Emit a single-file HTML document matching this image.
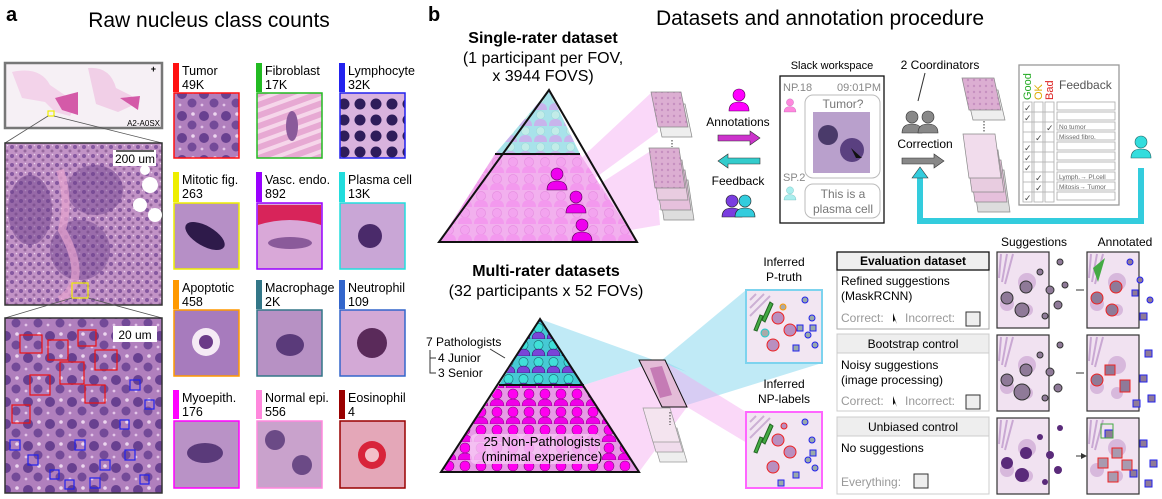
<!DOCTYPE html>
<html><head><meta charset="utf-8"><style>
html,body{margin:0;padding:0;background:#fff}
svg{display:block;font-family:"Liberation Sans","DejaVu Sans",sans-serif}
</style></head><body>
<svg width="1162" height="499" viewBox="0 0 1162 499" xmlns="http://www.w3.org/2000/svg">
<defs>
<pattern id="tis" width="9" height="9" patternUnits="userSpaceOnUse">
<rect width="9" height="9" fill="#c293c6"/><circle cx="3" cy="3" r="2" fill="#8558a0"/><circle cx="7" cy="7" r="1.5" fill="#96689f"/><circle cx="7.5" cy="1.5" r=".8" fill="#ecd3ee"/></pattern>
<pattern id="tis2" width="22" height="22" patternUnits="userSpaceOnUse">
<rect width="22" height="22" fill="#b07fbd"/><circle cx="6" cy="6" r="5" fill="#684090"/><circle cx="16" cy="15" r="4.5" fill="#734a98"/><circle cx="17" cy="4" r="1.8" fill="#ecd6ef"/><circle cx="4" cy="17" r="1.4" fill="#e3c4e8"/></pattern>
<pattern id="lym" width="16" height="16" patternUnits="userSpaceOnUse">
<rect width="16" height="16" fill="#d9b3de"/><circle cx="8" cy="8" r="5.5" fill="#2e1d5a"/></pattern>
<pattern id="fib" width="10" height="10" patternUnits="userSpaceOnUse" patternTransform="rotate(70)">
<rect width="10" height="10" fill="#e7a9d3"/><rect width="4" height="10" fill="#f6d6ea"/></pattern>
<pattern id="slide" width="6" height="6" patternUnits="userSpaceOnUse">
<rect width="6" height="6" fill="#dcaed2"/><circle cx="2" cy="2" r="1.2" fill="#c690c0"/></pattern>
<pattern id="ppl1" width="15" height="16" patternUnits="userSpaceOnUse" x="443" y="94">
<rect width="15" height="16" fill="#a8e2ea"/><circle cx="7.5" cy="5" r="4.2" fill="#c2ece8" stroke="#9adada" stroke-width=".6"/><path d="M1 16 Q1 9 7.5 9 Q14 9 14 16Z" fill="#c8b4ec"/></pattern>
<pattern id="ppl2" width="16" height="17" patternUnits="userSpaceOnUse" x="441" y="156">
<rect width="16" height="17" fill="#f2b0ee"/><circle cx="8" cy="6" r="4.6" fill="#f3a4ef" stroke="#e58de0" stroke-width=".6"/><path d="M1 17 Q1 10 8 10 Q15 10 15 17Z" fill="#f399ee"/></pattern>
<pattern id="ppl3" width="15" height="17" patternUnits="userSpaceOnUse" x="441" y="322">
<rect width="15" height="17" fill="#46c9d4"/><circle cx="7.5" cy="6" r="4.6" fill="#40e0d8" stroke="#1a6a70" stroke-width=".6"/><path d="M1 17 Q1 10 7.5 10 Q14 10 14 17Z" fill="#7a44d8" stroke="#1a1a55" stroke-width=".5"/></pattern>
<pattern id="ppl4" width="16" height="18" patternUnits="userSpaceOnUse" x="441" y="388">
<rect width="16" height="18" fill="#e79ae6"/><circle cx="8" cy="6" r="5" fill="#ff00f0" stroke="#80107a" stroke-width=".6"/><path d="M1 18 Q1 11 8 11 Q15 11 15 18Z" fill="#f000e8" stroke="#80107a" stroke-width=".5"/></pattern>
<g id="person"><circle cx="0" cy="-16" r="6"/><path d="M-10 0 Q-10 -9 0 -9 Q10 -9 10 0Z"/></g>
<g id="nuc"><rect width="52" height="76" fill="#f1e2f1" stroke="#333" stroke-width="1.2"/>
<path d="M4 2 L2 26 M10 2 L5 30 M16 2 L8 32" stroke="#c9a8d3" stroke-width="2"/>
<circle cx="10" cy="52" r="7" fill="#d7b8dc"/><circle cx="30" cy="30" r="9" fill="#d7b8dc"/><circle cx="30" cy="58" r="6" fill="#d7b8dc"/></g>
<marker id="ah" markerWidth="6" markerHeight="6" refX="3" refY="3" orient="auto"><path d="M0 0 L6 3 L0 6Z" fill="#333"/></marker>
</defs>

<!-- PANEL A -->
<text x="6" y="21" font-size="20" font-weight="bold">a</text>
<text x="209" y="27" font-size="21" text-anchor="middle">Raw nucleus class counts</text>
<rect x="5" y="63" width="157" height="65" fill="#f6f0f5" stroke="#777" stroke-width="2.5"/>
<path d="M12 72 Q40 66 50 85 L72 100 Q75 90 78 102 L70 116 L55 112 L45 102 L22 98 Z" fill="#f3d3ea"/>
<path d="M88 68 Q110 66 116 88 L130 95 L140 102 L118 112 L96 104 Z" fill="#f1cfe7"/>
<path d="M55 98 L78 92 L78 115 L62 110Z M120 98 L140 96 L138 110Z" fill="#d45aa8"/>
<rect x="48" y="111" width="6" height="5" fill="none" stroke="#ee0" stroke-width="1.2"/>
<text x="160" y="126" font-size="8" text-anchor="end">A2-A0SX</text>
<text x="156" y="72" font-size="9" font-weight="bold" text-anchor="end">+</text>
<line x1="48" y1="116" x2="5" y2="143" stroke="#555" stroke-width=".8"/><line x1="54" y1="116" x2="162" y2="143" stroke="#555" stroke-width=".8"/>
<rect x="5" y="143" width="157" height="162" fill="url(#tis)" stroke="#333" stroke-width="1.5"/>
<ellipse cx="30" cy="210" rx="22" ry="35" fill="#6b3f8a" opacity=".5"/><ellipse cx="95" cy="190" rx="28" ry="25" fill="#6b3f8a" opacity=".45"/><ellipse cx="80" cy="250" rx="30" ry="30" fill="#6b3f8a" opacity=".45"/>
<path d="M60 170 Q70 200 62 230 Q90 280 60 300" stroke="#e7a4cf" stroke-width="8" fill="none" opacity=".7"/>
<circle cx="150" cy="185" r="8" fill="#fff"/><circle cx="140" cy="205" r="7" fill="#fff"/><circle cx="155" cy="215" r="7" fill="#fff"/><circle cx="145" cy="170" r="5" fill="#fff"/>
<rect x="113" y="150" width="43" height="16" fill="#fff"/><text x="135" y="163" font-size="12" text-anchor="middle">200 um</text>
<line x1="116" y1="151" x2="154" y2="151" stroke="#000" stroke-width="1.3"/>
<rect x="72" y="283" width="16" height="15" fill="none" stroke="#ee0" stroke-width="1.2"/>
<line x1="72" y1="298" x2="5" y2="318" stroke="#555" stroke-width=".8"/><line x1="88" y1="298" x2="162" y2="318" stroke="#555" stroke-width=".8"/>
<rect x="5" y="318" width="157" height="175" fill="url(#tis2)" stroke="#333" stroke-width="1.5"/>
<rect x="113" y="326" width="44" height="16" fill="#fff"/><text x="135" y="339" font-size="12" text-anchor="middle">20 um</text>
<g fill="none" stroke="#e11" stroke-width="1.2">
<rect x="20" y="335" width="22" height="18"/><rect x="48" y="340" width="20" height="20"/><rect x="78" y="330" width="18" height="16"/><rect x="60" y="362" width="24" height="22"/><rect x="30" y="375" width="20" height="20"/><rect x="95" y="350" width="22" height="20"/><rect x="85" y="385" width="20" height="18"/><rect x="12" y="405" width="18" height="18"/></g>
<g fill="none" stroke="#22e" stroke-width="1.2">
<rect x="10" y="440" width="10" height="10"/><rect x="28" y="455" width="10" height="10"/><rect x="50" y="470" width="9" height="9"/><rect x="75" y="440" width="10" height="10"/><rect x="100" y="460" width="10" height="10"/><rect x="125" y="450" width="10" height="10"/><rect x="140" y="475" width="9" height="9"/><rect x="120" y="420" width="9" height="9"/><rect x="145" y="400" width="9" height="9"/><rect x="130" y="380" width="10" height="10"/><rect x="65" y="480" width="9" height="9"/><rect x="90" y="478" width="10" height="10"/></g>

<!-- tiles -->
<g font-size="12.5">
<rect x="173" y="63" width="6" height="29" fill="#f11"/><text x="182" y="75">Tumor</text><text x="182" y="89">49K</text>
<rect x="174" y="93" width="65" height="65" fill="url(#tis2)" stroke="#f11" stroke-width="1.5"/>
<rect x="256" y="63" width="6" height="29" fill="#2b2"/><text x="265" y="75">Fibroblast</text><text x="265" y="89">17K</text>
<rect x="257" y="93" width="65" height="65" fill="url(#fib)" stroke="#2b2" stroke-width="1.5"/><ellipse cx="292" cy="126" rx="6" ry="15" fill="#8a5a9a"/>
<rect x="339" y="63" width="6" height="29" fill="#22e"/><text x="348" y="75">Lymphocyte</text><text x="348" y="89">32K</text>
<rect x="340" y="93" width="65" height="65" fill="url(#lym)" stroke="#22e" stroke-width="1.5"/>
<rect x="173" y="172" width="6" height="30" fill="#ee0"/><text x="182" y="184">Mitotic fig.</text><text x="182" y="198">263</text>
<rect x="174" y="203" width="65" height="66" fill="#b68fc6" stroke="#ee0" stroke-width="1.5"/><ellipse cx="205" cy="236" rx="22" ry="10" fill="#2e1a4a" transform="rotate(30 205 236)"/>
<rect x="256" y="172" width="6" height="30" fill="#90f"/><text x="265" y="184">Vasc. endo.</text><text x="265" y="198">892</text>
<rect x="257" y="203" width="65" height="66" fill="#d9a8d8" stroke="#90f" stroke-width="1.5"/><path d="M258 205 H321 V225 Q290 215 258 225Z" fill="#d8245a"/><ellipse cx="290" cy="243" rx="22" ry="6" fill="#8a5a9a"/>
<rect x="339" y="172" width="6" height="30" fill="#2dd"/><text x="348" y="184">Plasma cell</text><text x="348" y="198">13K</text>
<rect x="340" y="203" width="65" height="66" fill="#c9a6d6" stroke="#2dd" stroke-width="1.5"/><circle cx="370" cy="236" r="12" fill="#4a2a6a"/>
<rect x="173" y="280" width="6" height="29" fill="#f90"/><text x="182" y="292">Apoptotic</text><text x="182" y="306">458</text>
<rect x="174" y="310" width="65" height="66" fill="#a77bbd" stroke="#f90" stroke-width="1.5"/><circle cx="206" cy="342" r="14" fill="#f5eaf5"/><circle cx="206" cy="342" r="7" fill="#6b3a88"/>
<rect x="256" y="280" width="6" height="29" fill="#378"/><text x="265" y="292">Macrophage</text><text x="265" y="306">2K</text>
<rect x="257" y="310" width="65" height="66" fill="#b791c4" stroke="#378" stroke-width="1.5"/><ellipse cx="290" cy="345" rx="14" ry="11" fill="#5a3a7a"/>
<rect x="339" y="280" width="6" height="29" fill="#36c"/><text x="348" y="292">Neutrophil</text><text x="348" y="306">109</text>
<rect x="340" y="310" width="65" height="66" fill="#d3a9d6" stroke="#36c" stroke-width="1.5"/><circle cx="372" cy="343" r="15" fill="#5a2a5a"/>
<rect x="173" y="390" width="6" height="29" fill="#f0f"/><text x="182" y="402">Myoepith.</text><text x="182" y="416">176</text>
<rect x="174" y="421" width="65" height="67" fill="#b992c6" stroke="#f0f" stroke-width="1.5"/><ellipse cx="205" cy="453" rx="18" ry="10" fill="#5a3a7a"/>
<rect x="256" y="390" width="6" height="29" fill="#f8d"/><text x="265" y="402">Normal epi.</text><text x="265" y="416">556</text>
<rect x="257" y="421" width="65" height="67" fill="#c9a2cc" stroke="#f8d" stroke-width="1.5"/><circle cx="275" cy="440" r="10" fill="#6b4a86"/><circle cx="302" cy="465" r="10" fill="#6b4a86"/>
<rect x="339" y="390" width="6" height="29" fill="#900"/><text x="348" y="402">Eosinophil</text><text x="348" y="416">4</text>
<rect x="340" y="421" width="65" height="67" fill="#e4a7b8" stroke="#900" stroke-width="1.5"/><circle cx="372" cy="455" r="14" fill="#d8243a"/><circle cx="372" cy="455" r="7" fill="#f3c0c8"/>
</g>

<!-- PANEL B -->
<text x="428" y="21" font-size="20" font-weight="bold">b</text>
<text x="820" y="25" font-size="21" text-anchor="middle">Datasets and annotation procedure</text>
<text x="543" y="43" font-size="16" font-weight="bold" text-anchor="middle">Single-rater dataset</text>
<text x="543" y="63" font-size="16" text-anchor="middle">(1 participant per FOV,</text>
<text x="543" y="81" font-size="16" text-anchor="middle">x 3944 FOVS)</text>
<path d="M560 178 L652 92 L658 132 L565 200Z M578 198 L652 150 L660 210 L582 220Z M580 218 L655 165 L660 225 L584 238Z" fill="#f090ee" opacity=".35"/>
<polygon points="549,90 495,154 580,154" fill="url(#ppl1)"/>
<polygon points="495,154 580,154 637,242 439,242" fill="url(#ppl2)"/>
<polygon points="549,90 439,242 637,242" fill="none" stroke="#111" stroke-width="2"/>
<line x1="495" y1="154" x2="580" y2="154" stroke="#111" stroke-width="2"/>
<g fill="#e0e" stroke="#505" stroke-width=".6"><use href="#person" x="557" y="190"/><use href="#person" x="576" y="213"/><use href="#person" x="582" y="241"/></g>
<g stroke="#888" stroke-width=".7">
<path d="M655 104 L685 104 L692 137 L662 137Z" fill="#eee"/>
<path d="M651 92 L681 92 L688 127 L658 127Z" fill="url(#slide)"/>
<path d="M658 180 L688 180 L694 220 L664 220Z" fill="#ddd"/>
<path d="M655 170 L685 170 L691 210 L661 210Z" fill="#e6c0dc"/>
<path d="M652 160 L682 160 L688 200 L658 200Z" fill="#e8cce0"/>
<path d="M649 148 L679 148 L685 188 L655 188Z" fill="url(#slide)"/>
</g>
<line x1="672" y1="140" x2="672" y2="147" stroke="#333" stroke-dasharray="1.5 1.5"/>
<use href="#person" x="739" y="111" fill="#f0f" stroke="#505" stroke-width=".6"/>
<text x="738" y="126" font-size="12" text-anchor="middle">Annotations</text>
<path d="M718 135 H750 V131 L760 138 L750 145 V141 H718Z" fill="#c3c" stroke="#333" stroke-width=".6"/>
<path d="M760 158 H728 V154 L718 161 L728 168 V164 H760Z" fill="#3cc" stroke="#333" stroke-width=".6"/>
<text x="738" y="185" font-size="12" text-anchor="middle">Feedback</text>
<use href="#person" x="732" y="217" fill="#7a3de0" stroke="#222" stroke-width=".6"/>
<use href="#person" x="745" y="217" fill="#3cd" stroke="#222" stroke-width=".6"/>
<text x="832" y="69" font-size="11" text-anchor="middle">Slack workspace</text>
<rect x="780" y="76" width="104" height="147" fill="#fff" stroke="#111" stroke-width="1.3"/>
<text x="783" y="91" font-size="11" fill="#888">NP.18</text><text x="881" y="91" font-size="11" fill="#888" text-anchor="end">09:01PM</text>
<rect x="805" y="95" width="75" height="83" rx="8" fill="#fff" stroke="#bbb"/>
<text x="843" y="108" font-size="12" fill="#777" text-anchor="middle">Tumor?</text>
<rect x="813" y="112" width="57" height="61" fill="#b9a0cc"/><circle cx="828" cy="135" r="10" fill="#4a3a6a"/><circle cx="852" cy="150" r="12" fill="#5a4080"/>
<path d="M851 148 L862 158 L856 158 L859 164 Z" fill="#111"/>
<use href="#person" x="790" y="112" fill="#f8d" stroke="#a5a" stroke-width=".5" transform="translate(790 112) scale(.6) translate(-790 -112)"/>
<text x="783" y="181" font-size="11" fill="#888">SP.2</text>
<use href="#person" x="790" y="200" fill="#aee" stroke="#5aa" stroke-width=".5" transform="translate(790 200) scale(.6) translate(-790 -200)"/>
<rect x="805" y="184" width="75" height="34" rx="8" fill="#fff" stroke="#bbb"/>
<text x="843" y="198" font-size="12" fill="#777" text-anchor="middle">This is a</text>
<text x="843" y="213" font-size="12" fill="#777" text-anchor="middle">plasma cell</text>
<text x="940" y="69" font-size="12" text-anchor="middle">2 Coordinators</text>
<line x1="925" y1="73" x2="918" y2="101" stroke="#333"/>
<use href="#person" x="912" y="133" fill="#888" stroke="#333" stroke-width=".6"/>
<use href="#person" x="928" y="133" fill="#888" stroke="#333" stroke-width=".6"/>
<text x="925" y="148" font-size="12" text-anchor="middle">Correction</text>
<path d="M902 158 H934 V154 L944 161 L934 168 V164 H902Z" fill="#888" stroke="#333" stroke-width=".6"/>
<g stroke="#888" stroke-width=".7">
<path d="M966 90 L998 90 L1005 120 L973 120Z" fill="#eee"/>
<path d="M962 78 L994 78 L1001 110 L969 110Z" fill="url(#slide)"/>
<path d="M972 170 L1004 170 L1010 212 L978 212Z" fill="#ddd"/>
<path d="M969 160 L1001 160 L1007 202 L975 202Z" fill="#e6c0dc"/>
<path d="M966 150 L998 150 L1004 192 L972 192Z" fill="#e8cce0"/>
<path d="M963 134 L995 134 L1001 178 L969 178Z" fill="#f1dcec"/>
</g>
<line x1="984" y1="121" x2="984" y2="132" stroke="#333" stroke-dasharray="1.5 1.5"/>
<rect x="1019" y="65" width="100" height="140" fill="#fff" stroke="#999" stroke-width="1.3"/>
<text transform="translate(1031 100) rotate(-90)" font-size="11" fill="#2a2">Good</text>
<text transform="translate(1042 100) rotate(-90)" font-size="11" fill="#da0">OK</text>
<text transform="translate(1053 100) rotate(-90)" font-size="11" fill="#d22">Bad</text>
<text x="1059" y="89" font-size="12" fill="#555">Feedback</text>
<g fill="none" stroke="#aaa" stroke-width=".8">
<path d="M1023 102 h9 v100 h-9Z M1034 102 h9 v100 h-9Z M1045 102 h9 v100 h-9Z"/>
<rect x="1057" y="102" width="58" height="8"/><rect x="1057" y="112" width="58" height="8"/><rect x="1057" y="122" width="58" height="8"/><rect x="1057" y="132" width="58" height="8"/><rect x="1057" y="142" width="58" height="8"/><rect x="1057" y="152" width="58" height="8"/><rect x="1057" y="162" width="58" height="8"/><rect x="1057" y="172" width="58" height="8"/><rect x="1057" y="182" width="58" height="8"/><rect x="1057" y="192" width="58" height="8"/>
<path d="M1023 112 h31 M1023 122 h31 M1023 132 h31 M1023 142 h31 M1023 152 h31 M1023 162 h31 M1023 172 h31 M1023 182 h31 M1023 192 h31"/>
</g>
<g font-size="9" fill="#444"><text x="1024" y="111">✓</text><text x="1024" y="121">✓</text><text x="1046" y="131">✓</text><text x="1035" y="141">✓</text><text x="1024" y="151">✓</text><text x="1024" y="161">✓</text><text x="1024" y="171">✓</text><text x="1035" y="181">✓</text><text x="1035" y="191">✓</text><text x="1024" y="201">✓</text></g>
<g font-size="6.5" fill="#666"><text x="1059" y="129">No tumor</text><text x="1059" y="139">Missed fibro.</text><text x="1059" y="179">Lymph.→ Pl.cell</text><text x="1059" y="189">Mitosis→ Tumor</text></g>
<use href="#person" x="1141" y="158" fill="#3dd" stroke="#266" stroke-width=".6"/>
<path d="M1141 168 V221 H920 V177" fill="none" stroke="#3cd" stroke-width="6"/>
<path d="M912 178 L920 167 L928 178Z" fill="#3cd" stroke="#333" stroke-width=".6"/>
<text x="1034" y="246" font-size="12" text-anchor="middle">Suggestions</text>
<text x="1125" y="246" font-size="12" text-anchor="middle">Annotated</text>

<text x="546" y="276" font-size="16" font-weight="bold" text-anchor="middle">Multi-rater datasets</text>
<text x="546" y="296" font-size="16" text-anchor="middle">(32 participants x 52 FOVs)</text>
<polygon points="540,319 584,385 662,360 687,372" fill="#8cd8ee" opacity=".55"/>
<polygon points="662,360 687,405 822,363 746,290" fill="#8cd8ee" opacity=".55"/>
<polygon points="584,385 639,472 687,407 662,360" fill="#f4a8f0" opacity=".45"/>
<polygon points="662,360 687,407 822,488 746,412" fill="#f4a8f0" opacity=".45"/>
<polygon points="540,319 499,385 584,385" fill="url(#ppl3)"/>
<polygon points="499,385 584,385 639,472 441,472" fill="url(#ppl4)"/>
<polygon points="540,319 441,472 639,472" fill="none" stroke="#111" stroke-width="2"/>
<line x1="499" y1="385" x2="584" y2="385" stroke="#111" stroke-width="2"/>
<rect x="470" y="434" width="130" height="30" rx="6" fill="#f6c6f3" opacity=".85"/>
<text x="542" y="446" font-size="13" text-anchor="middle">25 Non-Pathologists</text>
<text x="542" y="461" font-size="13" text-anchor="middle">(minimal experience)</text>
<text x="426" y="346" font-size="12">7 Pathologists</text>
<line x1="490" y1="349" x2="505" y2="358" stroke="#333"/>
<path d="M430 350 V373 H436 M430 358 H436" fill="none" stroke="#333"/>
<text x="438" y="362" font-size="12">4 Junior</text><text x="438" y="377" font-size="12">3 Senior</text>
<g stroke="#999" stroke-width=".7">
<path d="M650 428 L677 428 L687 462 L660 462Z" fill="#eee"/><path d="M646 418 L673 418 L683 452 L656 452Z" fill="#f0dcec"/><path d="M643 408 L670 408 L680 442 L653 442Z" fill="#f4e4ef"/></g>
<path d="M639 360 L665 360 L687 407 L662 407Z" fill="#e4bcd8" stroke="#111" stroke-width="1"/>
<path d="M650 368 L662 366 L672 395 L660 398Z" fill="#c57bb5"/>
<line x1="670" y1="412" x2="670" y2="425" stroke="#333" stroke-dasharray="1.5 1.5"/>
<text x="784" y="266" font-size="12" text-anchor="middle">Inferred</text><text x="784" y="281" font-size="12" text-anchor="middle">P-truth</text>
<text x="784" y="388" font-size="12" text-anchor="middle">Inferred</text><text x="784" y="403" font-size="12" text-anchor="middle">NP-labels</text>
<g>
<rect x="746" y="290" width="76" height="73" fill="#f2e6f2" stroke="#7dd3ee" stroke-width="2"/>
<path d="M750 300 L756 294 M750 308 L764 294 M750 316 L770 296" stroke="#ccb0d4" stroke-width="2"/>
<path d="M770 302 L762 320 L765 322 L773 304Z M760 315 L754 330 L757 331 L763 316Z" fill="#4a4" stroke="#262"/>
<g fill="#b98fc0" stroke="#e22" stroke-width="1"><circle cx="778" cy="318" r="6"/><circle cx="790" cy="330" r="6"/><circle cx="773" cy="345" r="6"/></g>
<circle cx="765" cy="333" r="4" fill="#aaa" stroke="#2cc"/><circle cx="783" cy="307" r="3" fill="#aaa" stroke="#f90"/>
<g fill="#9aa" stroke="#22e"><circle cx="805" cy="300" r="3"/><circle cx="812" cy="318" r="3"/><circle cx="808" cy="335" r="3"/><circle cx="815" cy="345" r="3"/><rect x="793" y="345" width="6" height="6"/><rect x="810" y="325" width="6" height="6"/><rect x="797" y="325" width="6" height="6"/></g>
</g>
<g>
<rect x="746" y="412" width="76" height="76" fill="#f2e6f2" stroke="#f6f" stroke-width="2"/>
<path d="M750 422 L756 416 M750 430 L764 416 M750 438 L770 418" stroke="#ccb0d4" stroke-width="2"/>
<path d="M770 424 L762 442 L765 444 L773 426Z M760 437 L754 452 L757 453 L763 438Z" fill="#4a4" stroke="#262"/>
<g fill="#b98fc0" stroke="#e22" stroke-width="1"><circle cx="778" cy="440" r="6"/><circle cx="790" cy="452" r="6"/><circle cx="773" cy="467" r="6"/><circle cx="784" cy="426" r="3"/></g>
<g fill="#9aa" stroke="#22e"><circle cx="805" cy="422" r="3"/><circle cx="812" cy="440" r="3"/><circle cx="808" cy="460" r="3"/><circle cx="815" cy="468" r="3"/><rect x="793" y="472" width="6" height="6"/><rect x="810" y="450" width="6" height="6"/><rect x="778" y="480" width="6" height="6"/></g>
</g>
<g font-size="12">
<rect x="837" y="252" width="152" height="77" fill="#fff" stroke="#aaa"/>
<rect x="837" y="252" width="152" height="18" fill="#eee" stroke="#111" stroke-width="1.3"/>
<text x="913" y="265" text-anchor="middle" font-weight="bold">Evaluation dataset</text>
<text x="841" y="285">Refined suggestions</text><text x="841" y="300">(MaskRCNN)</text>
<text x="841" y="322" fill="#999">Correct:</text><path d="M893 313 L893 322 L895 320 L897 324Z" fill="#111"/>
<text x="905" y="322" fill="#999">Incorrect:</text><rect x="966" y="312" width="14" height="14" fill="#eee" stroke="#333"/>
<rect x="837" y="334" width="152" height="77" fill="#fff" stroke="#ccc"/>
<rect x="837" y="334" width="152" height="19" fill="#eee" stroke="#ccc"/>
<text x="913" y="348" text-anchor="middle">Bootstrap control</text>
<text x="841" y="369">Noisy suggestions</text><text x="841" y="384">(image processing)</text>
<text x="841" y="405" fill="#999">Correct:</text><path d="M893 396 L893 405 L895 403 L897 407Z" fill="#111"/>
<text x="905" y="405" fill="#999">Incorrect:</text><rect x="966" y="395" width="14" height="14" fill="#eee" stroke="#333"/>
<rect x="837" y="417" width="152" height="77" fill="#fff" stroke="#ccc"/>
<rect x="837" y="417" width="152" height="19" fill="#eee" stroke="#ccc"/>
<text x="913" y="431" text-anchor="middle">Unbiased control</text>
<text x="841" y="452">No suggestions</text>
<text x="841" y="486" fill="#999">Everything:</text><rect x="914" y="474" width="14" height="14" fill="#eee" stroke="#333"/>
</g>
<g>
<use href="#nuc" x="997" y="252"/><use href="#nuc" x="997" y="335"/><use href="#nuc" x="997" y="418"/>
<use href="#nuc" x="1087" y="252"/><use href="#nuc" x="1087" y="335"/><use href="#nuc" x="1087" y="418"/>
<g fill="#8f7a98" stroke="#333"><circle cx="1007" cy="298" r="6"/><circle cx="1026" cy="287" r="6"/><circle cx="1022" cy="310" r="7"/><circle cx="1040" cy="272" r="3"/><circle cx="1050" cy="290" r="4"/><circle cx="1058" cy="305" r="4"/><circle cx="1045" cy="316" r="3"/><circle cx="1060" cy="262" r="3"/><circle cx="1065" cy="285" r="3"/>
<circle cx="1007" cy="380" r="6"/><circle cx="1026" cy="370" r="6"/><circle cx="1022" cy="392" r="8"/><circle cx="1040" cy="355" r="3"/><circle cx="1050" cy="372" r="4"/><circle cx="1058" cy="388" r="4"/><circle cx="1045" cy="398" r="3"/><circle cx="1060" cy="345" r="3"/></g>
<g fill="#5a2a7a"><circle cx="1007" cy="463" r="6"/><circle cx="1026" cy="453" r="6"/><circle cx="1022" cy="475" r="7"/><circle cx="1040" cy="437" r="3"/><circle cx="1050" cy="455" r="4"/><circle cx="1058" cy="470" r="4"/><circle cx="1045" cy="482" r="3"/><circle cx="1060" cy="428" r="3"/></g>
<g fill="#8f7a98" stroke="#e22"><circle cx="1097" cy="298" r="6"/><circle cx="1116" cy="287" r="6"/><circle cx="1112" cy="310" r="6"/><circle cx="1097" cy="380" r="6"/><rect x="1105" y="365" width="10" height="10"/><rect x="1120" y="380" width="10" height="12"/></g>
<g fill="#8f7a98" stroke="#22e"><circle cx="1130" cy="262" r="3"/><circle cx="1140" cy="280" r="3"/><circle cx="1150" cy="300" r="3"/><rect x="1140" y="313" width="7" height="7"/><rect x="1132" y="290" width="6" height="6"/>
<rect x="1145" y="350" width="7" height="7"/><rect x="1140" y="375" width="7" height="7"/><rect x="1148" y="395" width="7" height="7"/><rect x="1133" y="400" width="7" height="7"/>
<rect x="1105" y="430" width="8" height="8"/><rect x="1140" y="440" width="7" height="7"/><rect x="1150" y="460" width="7" height="7"/><rect x="1130" y="470" width="7" height="7"/><rect x="1145" y="480" width="7" height="7"/></g>
<g fill="#a89aaf" stroke="#e22"><rect x="1112" y="448" width="10" height="10"/><rect x="1098" y="458" width="10" height="10"/><rect x="1122" y="460" width="10" height="10"/><rect x="1108" y="472" width="10" height="10"/></g>
<rect x="1101" y="424" width="12" height="14" fill="none" stroke="#4a4"/>
<path d="M1093 268 L1105 258 L1098 282Z" fill="#4a4"/>
<path d="M1076 290 H1084 M1076 373 H1084 M1076 456 H1084" stroke="#333" marker-end="url(#ah)"/>
</g>
</svg>
</body></html>
